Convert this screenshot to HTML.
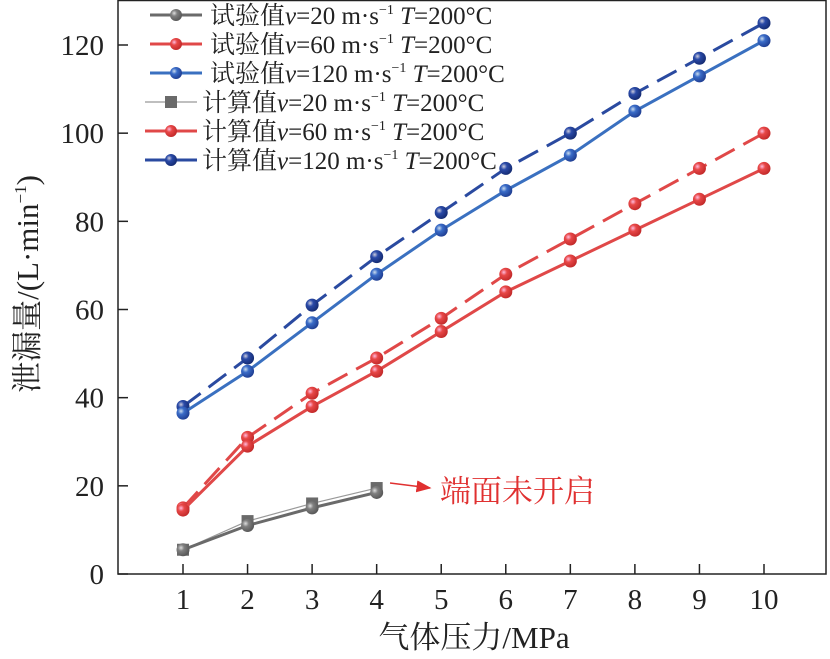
<!DOCTYPE html>
<html><head><meta charset="utf-8">
<style>
html,body{margin:0;padding:0;background:#fff;}
svg{display:block;font-family:"Liberation Serif","Noto Serif CJK SC",serif;}
</style></head>
<body>
<svg id="chart" width="830" height="659" viewBox="0 0 830 659" xmlns="http://www.w3.org/2000/svg">
<defs>
<radialGradient id="gGray" cx="0.35" cy="0.35" r="0.7"><stop offset="0" stop-color="#ddd"/><stop offset="0.35" stop-color="#808080"/><stop offset="1" stop-color="#555"/></radialGradient>
<radialGradient id="gRed" cx="0.35" cy="0.35" r="0.7"><stop offset="0" stop-color="#fbd"/><stop offset="0.35" stop-color="#e84848"/><stop offset="1" stop-color="#c02828"/></radialGradient>
<radialGradient id="gBlue" cx="0.35" cy="0.35" r="0.7"><stop offset="0" stop-color="#cde"/><stop offset="0.35" stop-color="#3a6cc8"/><stop offset="1" stop-color="#1e3c90"/></radialGradient>
<radialGradient id="gNavy" cx="0.35" cy="0.35" r="0.7"><stop offset="0" stop-color="#ccd"/><stop offset="0.35" stop-color="#2a4aa8"/><stop offset="1" stop-color="#142a70"/></radialGradient>
<marker id="arr" markerWidth="10" markerHeight="8" refX="9" refY="4" orient="auto"><path d="M0,0 L10,4 L0,8 Z" fill="#e03030"/></marker>
</defs>
<g id="plot"></g>
</svg>
<script>
const pressures = [1,2,3,4,5,6,7,8,9,10];
const grayExp = [5.5,11,15,18.5];
const grayCalc = [5.5,12,16,19.5];
const redExp = [14.5,29,38,46,55,64,71,78,85,92];
const redCalc = [15,31,41,49,58,68,76,84,92,100];
const blueExp = [36.5,46,57,68,78,87,95,105,113,121];
const blueCalc = [38,49,61,72,82,92,100,109,117,125];
const yTicks = [0,20,40,60,80,100,120];
const xTicks = [1,2,3,4,5,6,7,8,9,10];

const NS="http://www.w3.org/2000/svg";
const L=118,R=826,T=0,B=574;
function xs(v){return 183+(v-1)*(764-183)/9;}
function ys(v){return 574-v*(574-45)/120;}
const g=document.getElementById('plot');
function el(tag,attrs,parent){const e=document.createElementNS(NS,tag);for(const k in attrs)e.setAttribute(k,attrs[k]);(parent||g).appendChild(e);return e;}

let ax=el('rect',{x:L,y:T+0.5,width:R-L,height:B-T-0.5,fill:'none',stroke:'#222','stroke-width':1.5});


yTicks.forEach(v=>{
  const t=el('line',{x1:L,x2:L+10,y1:ys(v),y2:ys(v),stroke:'#222','stroke-width':1.5});
  
  
  const lb=el('text',{x:L-14,y:ys(v)+10,'text-anchor':'end','font-size':29,fill:'#222'});
  lb.textContent=v;
  
  
});
xTicks.forEach(v=>{
  const t=el('line',{x1:xs(v),x2:xs(v),y1:B,y2:B-10,stroke:'#222','stroke-width':1.5});
  
  
  const lb=el('text',{x:xs(v),y:B+35,'text-anchor':'middle','font-size':29,fill:'#222'});
  lb.textContent=v;
  
  
});
let xt=el('text',{x:474,y:648,'text-anchor':'middle','font-size':31,fill:'#222'});
xt.textContent='气体压力/MPa';


let yt=el('text',{x:0,y:0,'text-anchor':'middle','font-size':31,fill:'#222',transform:'translate(38,284) rotate(-90)'});
yt.innerHTML='泄漏量/(L·min<tspan font-size="17" dy="-12">−1</tspan><tspan dy="12">)</tspan>';



function series(vals,color,fill,dash,marker,name,width){
  const pts=vals.map((v,i)=>xs(pressures[i])+','+ys(v)).join(' ');
  const pl=el('polyline',{points:pts,fill:'none',stroke:color,'stroke-width':width,'stroke-dasharray':dash});
  
  
  vals.forEach((v,i)=>{
    let m;
    if(marker==='sq') m=el('rect',{x:xs(pressures[i])-6,y:ys(v)-6,width:12,height:12,fill:'#6a6a6a'});
    else m=el('circle',{cx:xs(pressures[i]),cy:ys(v),r:6.5,fill:fill});
    
    
  });
}
series(grayCalc,'#999','', 'none','sq','gray-calc',1.2);
series(grayExp,'#6a6a6a','url(#gGray)','none','c','gray-exp',3);
series(redCalc,'#e04848','url(#gRed)','22 10','c','red-calc',3);
series(redExp,'#e04848','url(#gRed)','none','c','red-exp',3);
series(blueCalc,'#2a4aa0','url(#gNavy)','22 10','c','blue-calc',3);
series(blueExp,'#3a70c0','url(#gBlue)','none','c','blue-exp',3);

let an=el('line',{x1:390,y1:483,x2:430,y2:488,stroke:'#e03030','stroke-width':1.5,'marker-end':'url(#arr)'});


let at=el('text',{x:440,y:502,'font-size':31,fill:'#e03030'});
at.textContent='端面未开启';



const legItems=[
 ['试验值','20','#6a6a6a','url(#gGray)','none','c',3,150,210],
 ['试验值','60','#e04848','url(#gRed)','none','c',3,150,210],
 ['试验值','120','#3a70c0','url(#gBlue)','none','c',3,150,210],
 ['计算值','20','#999','','none','sq',1.2,145,202],
 ['计算值','60','#e04848','url(#gRed)','none','c',3,145,202],
 ['计算值','120','#2a4aa0','url(#gNavy)','none','c',3,145,202]
];
legItems.forEach((it,i)=>{
  const y=15+i*29;
  const lg=el('g',{});
  
  
  el('line',{x1:it[7],x2:it[7]+52,y1:y,y2:y,stroke:it[2],'stroke-width':it[6]},lg);
  if(it[5]==='sq') el('rect',{x:it[7]+20,y:y-6,width:12,height:12,fill:'#6a6a6a'},lg);
  else el('circle',{cx:it[7]+26,cy:y,r:6,fill:it[3]},lg);
  const t=el('text',{x:it[8],y:y+9,'font-size':25,fill:'#222'},lg);
  t.innerHTML=it[0]+'<tspan font-style="italic">v</tspan>='+it[1]+' m·s<tspan font-size="14" dy="-10">−1</tspan><tspan dy="10"> </tspan><tspan font-style="italic">T</tspan>=200°C';
});
</script>
</body></html>
